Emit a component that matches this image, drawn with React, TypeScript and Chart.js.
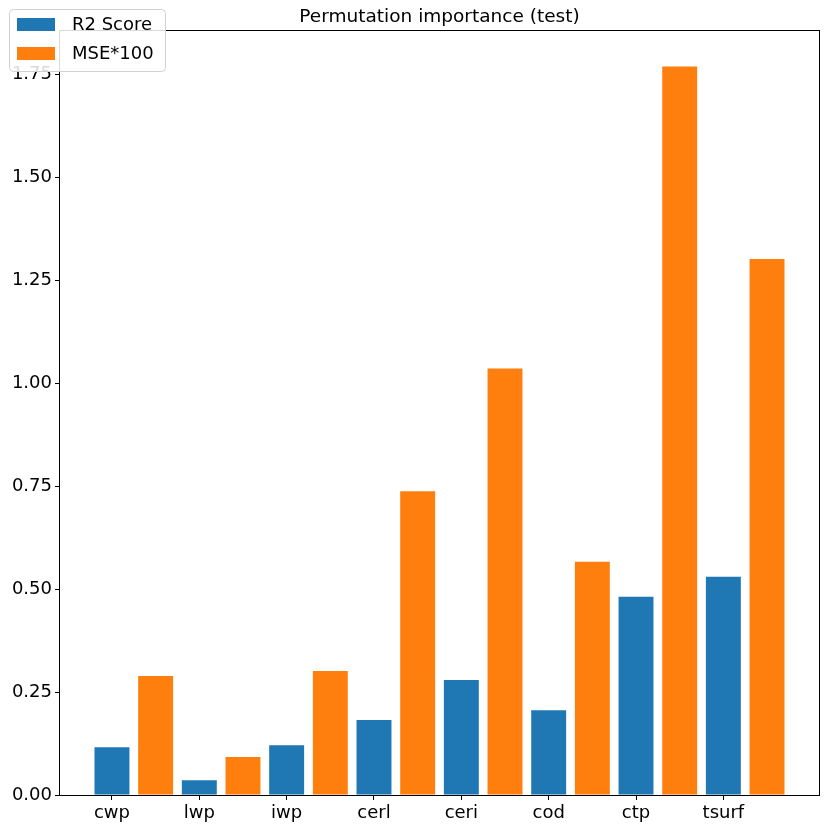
import { useRef, useEffect } from 'react';
import { Chart, registerables } from 'chart.js';

Chart.register(...registerables);

// features and permutation importances
const features = ['cwp', 'lwp', 'iwp', 'cerl', 'ceri', 'cod', 'ctp', 'tsurf'];
const r2Score = [0.116, 0.036, 0.121, 0.182, 0.279, 0.206, 0.481, 0.530];
const mse100 = [0.289, 0.092, 0.301, 0.737, 1.035, 0.566, 1.768, 1.301];
const yTicks = [0, 0.25, 0.5, 0.75, 1.0, 1.25, 1.5, 1.75];
const seriesLabels = ['R2 Score', 'MSE*100'];
const seriesColors = ['#1f77b4', '#ff7f0e'];

const FONT = "'DejaVu Sans', sans-serif";

// box spines on all four sides, like matplotlib
const framePlugin = {
    id: 'frame',
    afterDraw(chart: any) {
        const { ctx, chartArea: a } = chart;
        ctx.save();
        ctx.strokeStyle = '#000';
        ctx.lineWidth = 1;
        ctx.strokeRect(Math.round(a.left) - 0.5, Math.round(a.top) + 0.5, Math.round(a.right - a.left) + 1, Math.round(a.bottom - a.top));
        ctx.restore();
    }
};

// legend drawn over the top-left corner of the figure
const legendPlugin = {
    id: 'cornerLegend',
    afterDraw(chart: any) {
        const { ctx } = chart;
        ctx.save();
        ctx.fillStyle = 'rgba(255,255,255,0.85)';
        ctx.strokeStyle = '#d0d0d0';
        ctx.lineWidth = 1;
        ctx.beginPath();
        ctx.roundRect(9.5, 9.5, 156, 62, 4);
        ctx.fill();
        ctx.stroke();
        ctx.font = `18px ${FONT}`;
        ctx.textBaseline = 'middle';
        seriesLabels.forEach((lbl, i) => {
            const y = 18 + i * 29;
            ctx.fillStyle = seriesColors[i];
            ctx.fillRect(17, y, 38, 13);
            ctx.fillStyle = '#000';
            ctx.fillText(lbl, 72, y + 7);
        });
        ctx.restore();
    }
};

const App = () => {
    const canvasRef = useRef<HTMLCanvasElement | null>(null);
    const chartRef = useRef<any>(null);

    useEffect(() => {
        if (!canvasRef.current) return;
        if (chartRef.current) chartRef.current.destroy();

        const n = features.length;
        const ymax = Math.max(...mse100) * 1.05;
        // matplotlib-style x limits: bars of width 0.4 at i and i+0.5, plus 5% margin
        const lo = -0.2, hi = n - 1 + 0.7;
        const margin = (hi - lo) * 0.05;

        chartRef.current = new Chart(canvasRef.current, {
            type: 'bar',
            data: {
                datasets: [
                    {
                        label: seriesLabels[0],
                        data: r2Score.map((v, i) => ({ x: i, y: v })),
                        backgroundColor: seriesColors[0],
                        borderWidth: 0,
                        grouped: false,
                        barPercentage: 0.8,
                        categoryPercentage: 1
                    },
                    {
                        label: seriesLabels[1],
                        data: mse100.map((v, i) => ({ x: i + 0.5, y: v })),
                        backgroundColor: seriesColors[1],
                        borderWidth: 0,
                        grouped: false,
                        barPercentage: 0.8,
                        categoryPercentage: 1
                    }
                ]
            },
            options: {
                animation: false,
                responsive: true,
                maintainAspectRatio: false,
                layout: { padding: { left: 0, right: 11, top: 0, bottom: 0 } },
                plugins: {
                    legend: { display: false },
                    tooltip: { enabled: false },
                    title: {
                        display: true,
                        fullSize: false,
                        text: 'Permutation importance (test)',
                        color: '#000',
                        font: { family: FONT, size: 18.5, weight: 'normal' },
                        padding: { top: 6, bottom: 2 }
                    }
                },
                scales: {
                    x: {
                        type: 'linear',
                        offset: false,
                        min: lo - margin,
                        max: hi + margin,
                        border: { display: false },
                        grid: { display: true, offset: false, drawOnChartArea: false, drawTicks: true, tickLength: 5, color: '#000' },
                        afterBuildTicks: (scale: any) => { scale.ticks = features.map((_, i) => ({ value: i })); },
                        afterFit: (scale: any) => { scale.height = 35; },
                        ticks: {
                            autoSkip: false,
                            maxRotation: 0,
                            padding: 3,
                            color: '#000',
                            font: { family: FONT, size: 18 },
                            callback: (v: any) => features[v] ?? ''
                        }
                    },
                    y: {
                        min: 0,
                        max: ymax,
                        border: { display: false },
                        grid: { display: true, drawOnChartArea: false, drawTicks: true, tickLength: 5, color: '#000' },
                        afterBuildTicks: (scale: any) => { scale.ticks = yTicks.map(v => ({ value: v })); },
                        afterFit: (scale: any) => { scale.width = 60; },
                        ticks: {
                            padding: 3,
                            color: '#000',
                            font: { family: FONT, size: 18 },
                            callback: (v: any) => Number(v).toFixed(2)
                        }
                    }
                }
            },
            plugins: [framePlugin, legendPlugin]
        } as any);

        return () => { if (chartRef.current) chartRef.current.destroy(); };
    }, []);

    return (
        <div style={{ position: 'absolute', left: 0, top: 0, width: 830, height: 830, background: '#fff' }}>
            <canvas ref={canvasRef}></canvas>
        </div>
    );
};

export default App;
